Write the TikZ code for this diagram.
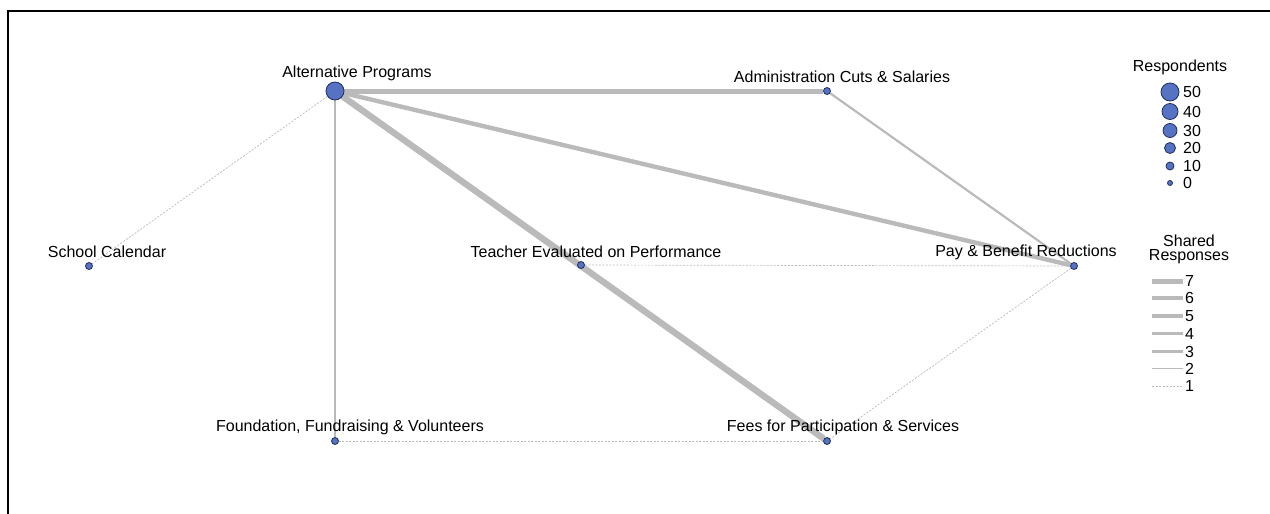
\documentclass[tikz,border=0pt]{standalone}
\usepackage{fontspec}
\setmainfont{Liberation Sans}
\definecolor{nfill}{RGB}{86,114,194}
\definecolor{ndraw}{RGB}{32,46,96}
\definecolor{egray}{RGB}{186,186,186}
\pgfdeclarelayer{bg}
\pgfsetlayers{bg,main}

\begin{document}
\begin{tikzpicture}[x=1pt,y=-1pt,
  v/.style={circle,draw=ndraw,fill=nfill,line width=0.8pt,inner sep=0pt,minimum size=7pt},
  big/.style={minimum size=18pt},
  lbl/.style={font=\fontsize{16}{14}\selectfont,inner sep=0pt},
  w1/.style={draw=egray,line width=0.7pt,dash pattern=on 2pt off 1.5pt},
  w2/.style={draw=egray,line width=1.6pt},
  w3/.style={draw=egray,line width=2.2pt},
  w5/.style={draw=egray,line width=4.4pt},
  w6/.style={draw=egray,line width=5pt},
  w7/.style={draw=egray,line width=6.4pt}]

\useasboundingbox (0,0) rectangle (1270,514);
\draw[line width=2pt] (8,514) -- (8,11) -- (1270,11);

% topics
\node[v,big] (ap) at (335,91) {};
\node[v] (adm) at (827,91) {};
\node[v] (cal) at (89,266) {};
\node[v] (tch) at (581,265) {};
\node[v] (pay) at (1074,266) {};
\node[v] (fnd) at (335,441) {};
\node[v] (fee) at (827,441) {};

\node[lbl] (lap) at (357,73) {Alternative Programs};
\node[lbl] (ladm) at (842,77) {Administration Cuts \& Salaries};
\node[lbl] (lcal) at (107,252) {School Calendar};
\node[lbl] (ltch) at (596,252) {Teacher Evaluated on Performance};
\node[lbl] (lpay) at (1026,252) {Pay \& Benefit Reductions};
\node[lbl] (lfnd) at (350,427) {Foundation, Fundraising \& Volunteers};
\node[lbl] (lfee) at (843,427) {Fees for Participation \& Services};

% shared responses
\begin{pgfonlayer}{bg}
\draw[w7] (ap) -- (fee);
\draw[w6] (ap) -- (adm);
\draw[w5] (ap) -- (pay);
\draw[w3] (adm) -- (pay);
\draw[w2] (ap) -- (fnd);
\draw[w1] (ap) -- (cal);
\draw[w1] (tch) -- (pay);
\draw[w1] (pay) -- (fee);
\draw[w1] (fnd) -- (fee);
\end{pgfonlayer}

% legend: respondents
\node[lbl] (lresp) at (1180,67) {Respondents};
\foreach \n/\y/\d in {50/92/18,40/111.5/16,30/130.5/14,20/148/11,10/166/8,0/183/5}{
  \node[v,minimum size=\d pt] (r\n) at (1170,\y) {};
  \node[lbl,anchor=west] (lr\n) at (1183,\y) {\n};
}

% legend: shared responses
\node[lbl,align=center] (lshr) at (1189,249) {Shared\\Responses};
\foreach \n/\y in {7/281,6/298,5/316,4/333.5,3/351.5,2/368.5,1/386}{
  \coordinate (s\n) at (1152,\y);
  \coordinate (t\n) at (1183,\y);
  \node[lbl,anchor=west] (ls\n) at (1185,\y) {\n};
}
\draw[draw=egray,line width=5pt] (s7) -- (t7);
\draw[draw=egray,line width=4.3pt] (s6) -- (t6);
\draw[draw=egray,line width=3.6pt] (s5) -- (t5);
\draw[draw=egray,line width=3.1pt] (s4) -- (t4);
\draw[draw=egray,line width=2.4pt] (s3) -- (t3);
\draw[draw=egray,line width=1.6pt] (s2) -- (t2);
\draw[w1] (s1) -- (t1);
\end{tikzpicture}
\end{document}
